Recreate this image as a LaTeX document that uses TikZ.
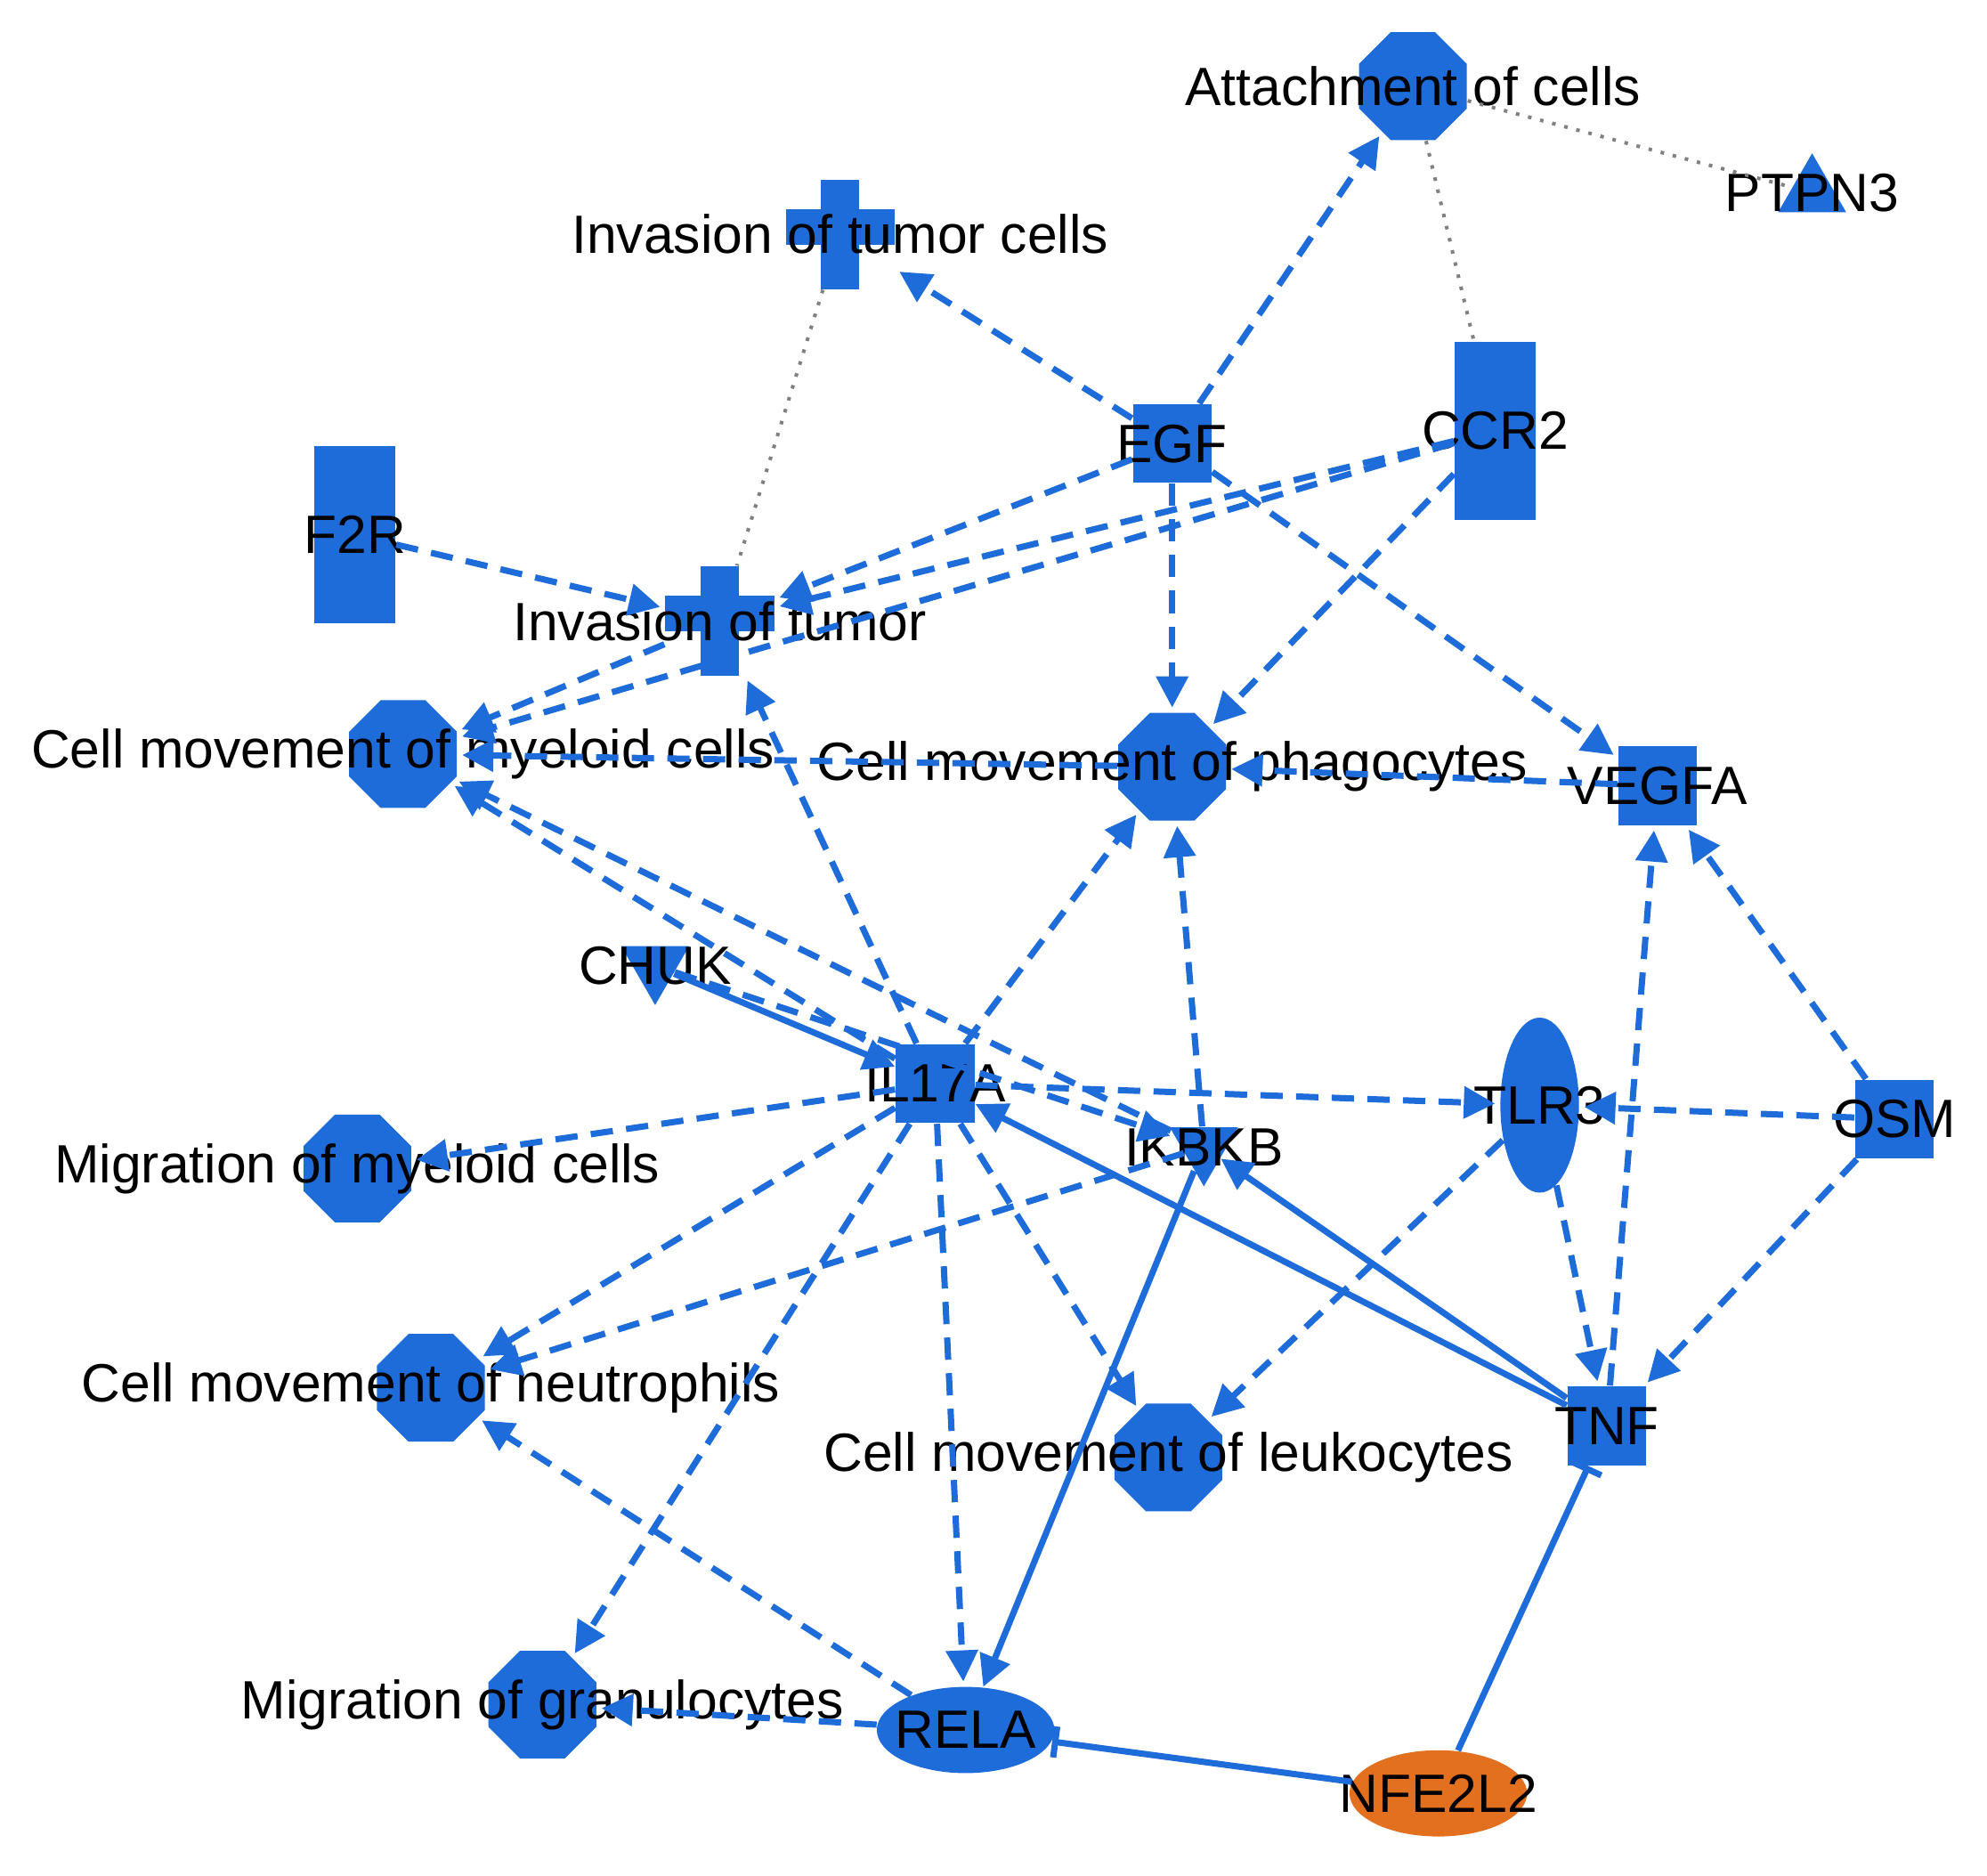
\documentclass[tikz,border=0pt]{standalone}
\usepackage{fontspec}
\setmainfont{Liberation Sans}
\usetikzlibrary{shapes.geometric,arrows.meta}
\definecolor{ipablue}{RGB}{30,108,218}
\definecolor{ipaorange}{RGB}{226,112,30}
\begin{document}
\begin{tikzpicture}[x=0.01cm,y=-0.01cm,
    font=\fontsize{12.1}{14}\selectfont,
    oct/.style={regular polygon,regular polygon sides=8,fill=ipablue,minimum size=0.92cm,inner sep=0pt},
    sq/.style={rectangle,fill=ipablue,minimum size=0.62cm,inner sep=0pt},
    bar/.style={rectangle,fill=ipablue,minimum width=0.64cm,minimum height=1.4cm,inner sep=0pt},
    cr/.style={rectangle,minimum width=0.86cm,minimum height=0.86cm,inner sep=0pt},
    tri/.style={regular polygon,regular polygon sides=3,fill=ipablue,minimum size=0.62cm,inner sep=0pt},
    dtri/.style={tri,shape border rotate=180},
    ell/.style={ellipse,fill=ipablue,minimum width=1.4cm,minimum height=0.68cm,inner sep=0pt},
    act/.style={draw=ipablue,line width=1.4pt,dash pattern=on 5pt off 3pt,-{Triangle[length=7pt,width=7pt]},shorten >=1pt},
    sol/.style={draw=ipablue,line width=1.4pt,-{Triangle[length=7pt,width=7pt]}},
    inh/.style={draw=ipablue,line width=1.4pt,-{Bar[width=7pt]}},
    dot/.style={draw=gray,line width=0.8pt,dotted}]
  \useasboundingbox (0,0) rectangle (1568,1480);

  % nodes
  \node[oct,label={center:Attachment of cells}] (att) at (1115,68) {};
  \node[tri,label={center:PTPN3}] (ptpn) at (1430,152) {};
  \node[cr] (itc) at (663,185) {};
  \node[sq,label={center:EGF}] (egf) at (925,350) {};
  \node[bar,label={center:CCR2}] (ccr) at (1180,340) {};
  \node[bar,label={center:F2R}] (f2r) at (280,422) {};
  \node[cr] (it) at (568,490) {};
  \foreach \n/\x/\y in {itc/663/185,it/568/490}{
    \fill[ipablue] (\x-15,\y-43) rectangle (\x+15,\y+43);
    \fill[ipablue] (\x-43,\y-20) rectangle (\x+43,\y+8);
  }
  \node at (itc) {Invasion of tumor cells};
  \node at (it) {Invasion of tumor};
  \node[oct,label={center:Cell movement of myeloid cells}] (cmm) at (318,595) {};
  \node[oct,label={center:Cell movement of phagocytes}] (cmp) at (925,605) {};
  \node[sq,label={center:VEGFA}] (vegfa) at (1308,620) {};
  \node[dtri,label={center:CHUK}] (chuk) at (517,762) {};
  \node[sq,label={center:IL17A}] (il17a) at (738,855) {};
  \node[dtri,label={center:IKBKB}] (ikbkb) at (950,905) {};
  \node[ell,minimum width=0.62cm,minimum height=1.38cm,label={center:TLR3}] (tlr3) at (1215,872) {};
  \node[sq,label={center:OSM}] (osm) at (1495,883) {};
  \node[oct,label={center:Migration of myeloid cells}] (mmc) at (282,922) {};
  \node[oct,label={center:Cell movement of neutrophils}] (cmn) at (340,1095) {};
  \node[oct,label={center:Cell movement of leukocytes}] (cml) at (922,1150) {};
  \node[sq,label={center:TNF}] (tnf) at (1268,1125) {};
  \node[oct,label={center:Migration of granulocytes}] (mg) at (428,1345) {};
  \node[ell,label={center:RELA}] (rela) at (762,1365) {};
  \node[ell,fill=ipaorange,label={center:NFE2L2}] (nfe) at (1135,1415) {};

  % edges
  \draw[dot] (att) -- (ptpn);
  \draw[dot] (att) -- (ccr);
  \draw[dot] (itc) -- (it);
  \draw[act] (egf) -- (att);
  \draw[act] (egf) -- (itc);
  \draw[act] (egf) -- (it);
  \draw[act] (egf) -- (cmp);
  \draw[act] (egf) -- (vegfa);
  \draw[act] (ccr) -- (it);
  \draw[act] (ccr) -- (cmp);
  \draw[act] (ccr) -- (cmm);
  \draw[act] (f2r) -- (it);
  \draw[act] (it) -- (cmm);
  \draw[act] (vegfa) -- (cmp);
  \draw[act] (cmp) -- (cmm);
  \draw[act] (il17a) -- (it);
  \draw[act] (il17a) -- (cmp);
  \draw[act] (il17a) -- (cmm);
  \draw[act] (il17a) -- (mmc);
  \draw[act] (il17a) -- (cmn);
  \draw[act] (il17a) -- (mg);
  \draw[act] (il17a) -- (rela);
  \draw[act] (il17a) -- (cml);
  \draw[act] (il17a) -- (tlr3);
  \draw[sol] (chuk) -- (il17a);
  \draw[act] (chuk) -- (ikbkb);
  \draw[act] (ikbkb) -- (cmm);
  \draw[act] (ikbkb) -- (cmp);
  \draw[act] (ikbkb) -- (cmn);
  \draw[sol] (ikbkb) -- (rela);
  \draw[sol] (tnf) -- (il17a);
  \draw[sol] (tnf) -- (ikbkb);
  \draw[act] (tnf) -- (vegfa);
  \draw[act] (tlr3) -- (tnf);
  \draw[act] (tlr3) -- (cml);
  \draw[act] (osm) -- (tlr3);
  \draw[act] (osm) -- (vegfa);
  \draw[act] (osm) -- (tnf);
  \draw[act] (rela) -- (cmn);
  \draw[act] (rela) -- (mg);
  \draw[inh] (nfe) -- (rela);
  \draw[inh] (nfe) -- (tnf);
\end{tikzpicture}
\end{document}
